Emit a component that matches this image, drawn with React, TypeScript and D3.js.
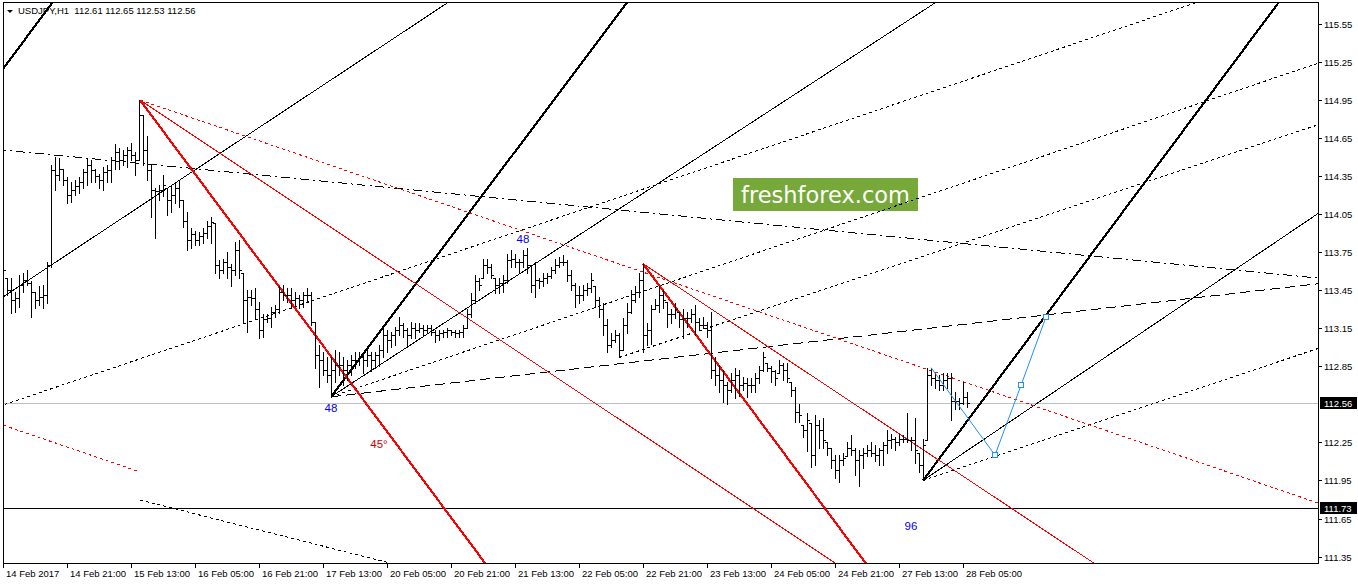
import React from 'react';
import * as d3 from 'd3';

const W = 1358;
const H = 584;

// ---- data -------------------------------------------------------------
const TIME_LABELS = ['14 Feb 2017', '14 Feb 21:00', '15 Feb 13:00', '16 Feb 05:00', '16 Feb 21:00', '17 Feb 13:00', '20 Feb 05:00', '20 Feb 21:00', '21 Feb 13:00', '22 Feb 05:00', '22 Feb 21:00', '23 Feb 13:00', '24 Feb 05:00', '24 Feb 21:00', '27 Feb 13:00', '28 Feb 05:00'];
const TIME_LABEL_BARS = [0, 16, 32, 48, 64, 80, 96, 112, 128, 144, 160, 176, 192, 208, 224, 240];
const PRICE_TICKS = [115.55, 115.25, 114.95, 114.65, 114.35, 114.05, 113.75, 113.45, 113.15, 112.85, 112.25, 111.95, 111.65, 111.35];

const OPEN_FIRST = 113.70;
const HIGH = [
  113.74, 113.55, 113.55, 113.44, 113.57, 113.59, 113.61, 113.52, 113.44, 113.48,
  113.49, 113.67, 114.44, 114.50, 114.49, 114.41, 114.34, 114.30, 114.32, 114.34,
  114.41, 114.49, 114.48, 114.41, 114.37, 114.42, 114.44, 114.50, 114.60, 114.57,
  114.56, 114.58, 114.61, 114.54, 114.95, 114.83, 114.67, 114.44, 114.26, 114.28,
  114.36, 114.26, 114.28, 114.30, 114.32, 114.16, 114.07, 113.94, 113.92, 113.91,
  113.94, 114.00, 114.03, 113.98, 113.69, 113.70, 113.75, 113.66, 113.83, 113.85,
  113.59, 113.45, 113.45, 113.47, 113.36, 113.26, 113.26, 113.32, 113.33, 113.48,
  113.49, 113.47, 113.47, 113.44, 113.41, 113.44, 113.47, 113.44, 113.20, 113.02,
  112.96, 112.92, 112.92, 112.98, 112.96, 112.92, 112.90, 112.94, 112.96, 112.96,
  112.94, 113.00, 112.96, 112.96, 113.02, 113.16, 113.14, 113.12, 113.16, 113.24,
  113.19, 113.15, 113.20, 113.19, 113.19, 113.18, 113.18, 113.18, 113.14, 113.14,
  113.14, 113.15, 113.14, 113.14, 113.14, 113.18, 113.30, 113.43, 113.57, 113.55,
  113.70, 113.70, 113.66, 113.55, 113.55, 113.57, 113.74, 113.77, 113.74, 113.70,
  113.77, 113.78, 113.65, 113.67, 113.55, 113.59, 113.59, 113.63, 113.70, 113.71,
  113.73, 113.69, 113.61, 113.51, 113.48, 113.49, 113.51, 113.59, 113.48, 113.40,
  113.35, 113.22, 113.11, 113.14, 113.11, 113.23, 113.35, 113.45, 113.48, 113.59,
  113.66, 113.19, 113.33, 113.38, 113.48, 113.45, 113.36, 113.30, 113.35, 113.28,
  113.30, 113.28, 113.30, 113.33, 113.23, 113.24, 113.20, 113.28, 112.92, 112.86,
  112.82, 112.73, 112.80, 112.84, 112.82, 112.77, 112.76, 112.76, 112.80, 112.85,
  112.96, 112.88, 112.85, 112.82, 112.90, 112.88, 112.88, 112.73, 112.69, 112.55,
  112.39, 112.48, 112.40, 112.47, 112.43, 112.44, 112.25, 112.21, 112.15, 112.15,
  112.17, 112.25, 112.31, 112.21, 112.19, 112.21, 112.23, 112.25, 112.23, 112.21,
  112.25, 112.35, 112.32, 112.29, 112.32, 112.31, 112.48, 112.29, 112.44, 112.17,
  112.28, 112.84, 112.84, 112.80, 112.78, 112.80, 112.80, 112.80, 112.65, 112.60,
  112.73, 112.65,
];
const LOW = [
  113.55, 113.41, 113.27, 113.28, 113.32, 113.44, 113.49, 113.24, 113.31, 113.33,
  113.31, 113.35, 113.63, 114.24, 114.32, 114.28, 114.14, 114.15, 114.20, 114.22,
  114.26, 114.28, 114.30, 114.30, 114.26, 114.24, 114.30, 114.30, 114.41, 114.41,
  114.44, 114.42, 114.48, 114.36, 114.48, 114.44, 114.32, 114.03, 113.86, 114.16,
  114.19, 114.04, 114.07, 114.14, 114.11, 113.95, 113.77, 113.78, 113.81, 113.81,
  113.82, 113.86, 113.82, 113.59, 113.55, 113.59, 113.55, 113.48, 113.57, 113.55,
  113.20, 113.12, 113.33, 113.22, 113.07, 113.08, 113.20, 113.16, 113.24, 113.27,
  113.37, 113.36, 113.31, 113.33, 113.31, 113.32, 113.36, 113.18, 112.84, 112.69,
  112.78, 112.73, 112.61, 112.73, 112.78, 112.70, 112.74, 112.78, 112.84, 112.86,
  112.80, 112.85, 112.81, 112.84, 112.85, 112.92, 112.96, 113.00, 113.02, 113.10,
  113.08, 113.00, 113.07, 113.07, 113.12, 113.10, 113.11, 113.10, 113.04, 113.06,
  113.08, 113.08, 113.10, 113.08, 113.08, 113.08, 113.15, 113.24, 113.35, 113.45,
  113.55, 113.59, 113.55, 113.43, 113.43, 113.44, 113.51, 113.63, 113.63, 113.59,
  113.63, 113.59, 113.44, 113.40, 113.47, 113.48, 113.51, 113.55, 113.59, 113.63,
  113.65, 113.52, 113.45, 113.32, 113.35, 113.37, 113.41, 113.44, 113.32, 113.24,
  113.10, 112.96, 113.00, 113.04, 112.92, 112.98, 113.11, 113.27, 113.36, 113.40,
  112.96, 113.02, 113.03, 113.30, 113.28, 113.31, 113.16, 113.19, 113.23, 113.16,
  113.07, 113.16, 113.20, 113.10, 113.14, 113.15, 113.08, 112.76, 112.70, 112.65,
  112.57, 112.55, 112.65, 112.60, 112.62, 112.66, 112.61, 112.65, 112.65, 112.72,
  112.81, 112.81, 112.73, 112.70, 112.80, 112.74, 112.73, 112.62, 112.41, 112.41,
  112.29, 112.18, 112.06, 112.07, 112.21, 112.21, 112.15, 112.05, 111.97, 111.94,
  112.07, 112.14, 112.15, 111.99, 111.91, 112.05, 112.14, 112.14, 112.10, 112.07,
  112.07, 112.17, 112.21, 112.19, 112.23, 112.25, 112.25, 112.19, 112.09, 112.02,
  111.95, 112.27, 112.70, 112.68, 112.66, 112.66, 112.68, 112.43, 112.51, 112.51,
  112.55, 112.53,
];
const CLOSE = [
  113.61, 113.45, 113.37, 113.39, 113.49, 113.53, 113.51, 113.44, 113.37, 113.40,
  113.41, 113.65, 114.40, 114.36, 114.41, 114.32, 114.20, 114.24, 114.27, 114.30,
  114.38, 114.44, 114.40, 114.35, 114.32, 114.38, 114.40, 114.48, 114.54, 114.48,
  114.52, 114.56, 114.52, 114.48, 114.83, 114.56, 114.40, 114.24, 114.23, 114.24,
  114.28, 114.16, 114.20, 114.26, 114.16, 114.00, 113.85, 113.89, 113.85, 113.88,
  113.90, 113.96, 113.99, 113.65, 113.61, 113.67, 113.63, 113.61, 113.77, 113.61,
  113.37, 113.40, 113.39, 113.30, 113.14, 113.22, 113.23, 113.28, 113.30, 113.44,
  113.41, 113.41, 113.37, 113.39, 113.37, 113.41, 113.41, 113.20, 112.94, 112.90,
  112.82, 112.78, 112.82, 112.86, 112.86, 112.82, 112.86, 112.90, 112.90, 112.92,
  112.90, 112.94, 112.90, 112.94, 112.98, 113.10, 113.06, 113.10, 113.14, 113.18,
  113.14, 113.10, 113.15, 113.14, 113.15, 113.14, 113.15, 113.12, 113.10, 113.11,
  113.12, 113.14, 113.12, 113.11, 113.12, 113.15, 113.26, 113.37, 113.52, 113.49,
  113.65, 113.63, 113.57, 113.49, 113.51, 113.53, 113.69, 113.70, 113.67, 113.67,
  113.73, 113.65, 113.49, 113.53, 113.52, 113.55, 113.56, 113.61, 113.65, 113.67,
  113.67, 113.57, 113.49, 113.41, 113.41, 113.45, 113.47, 113.53, 113.37, 113.30,
  113.18, 113.02, 113.06, 113.10, 112.98, 113.18, 113.28, 113.37, 113.44, 113.53,
  113.10, 113.14, 113.30, 113.33, 113.41, 113.37, 113.26, 113.26, 113.30, 113.22,
  113.23, 113.23, 113.26, 113.20, 113.18, 113.18, 113.14, 112.82, 112.78, 112.74,
  112.70, 112.66, 112.74, 112.78, 112.70, 112.72, 112.70, 112.70, 112.76, 112.82,
  112.92, 112.84, 112.81, 112.76, 112.86, 112.82, 112.76, 112.66, 112.49, 112.47,
  112.35, 112.43, 112.15, 112.39, 112.35, 112.27, 112.21, 112.11, 112.03, 112.11,
  112.13, 112.21, 112.19, 112.11, 112.15, 112.17, 112.19, 112.17, 112.15, 112.19,
  112.23, 112.27, 112.28, 112.25, 112.28, 112.28, 112.27, 112.27, 112.19, 112.07,
  112.23, 112.78, 112.76, 112.74, 112.70, 112.74, 112.76, 112.58, 112.58, 112.56,
  112.61, 112.56,
];

// Gann-fan / trend lines: anchor bar, anchor price, slope (price per bar), start/end bar
const LINE_BARS = [0, 0, 0, 0, 82, 82, 82, 82, 154, 230, 230, 230, 34.25, 34.25, 34.25, 160, 160, 0, 34.25];
const LINE_PRICES = [115.195, 113.397, 112.545, 114.556, 112.61, 112.61, 112.61, 112.61, 112.92, 111.95, 111.95, 111.95, 114.95, 114.95, 114.95, 113.66, 113.66, 112.387, 111.796];
const LINE_SLOPES = [0.04249, 0.02088, 0.01064, -0.003071, 0.04202, 0.02057, 0.01066, 0.003612, 0.0105, 0.0424, 0.02132, 0.01054, -0.04233, -0.02101, -0.01079, -0.04243, -0.02095, -0.01079, -0.00795];
const LINE_START = [-200, -200, -200, -200, 82, 82, 82, 82, 154, 230, 230, 230, 34.25, 34.25, 34.25, 160, 160, -200, 34.25];
const LINE_END = [400, 400, 400, 400, 400, 400, 400, 400, 400, 400, 400, 400, 400, 400, 400, 400, 400, 34.25, 400];
const LINE_KINDS = ['thick', 'thin', 'dot', 'dashdot', 'thick', 'thin', 'dot', 'dash', 'dot', 'thick', 'thin', 'dot', 'thick', 'thin', 'dot', 'thick', 'thin', 'dot', 'dot'];
const LINE_COLORS = ['k', 'k', 'k', 'k', 'k', 'k', 'k', 'k', 'k', 'k', 'k', 'k', 'r', 'r', 'r', 'r', 'r', 'r', 'k'];

const PATH_BARS = [232, 248, 254.5, 260.75];
const PATH_PRICES = [112.84, 112.15, 112.70, 113.24];

const LABEL_TEXTS = ['48', '48', '45°', '96'];
const LABEL_BARS = [130, 82, 94, 227];
const LABEL_PRICES = [113.82, 112.49, 112.21, 111.56];
const LABEL_COLORS = ['#0000ff', '#0000ff', '#cc0000', '#0000ff'];

const CURRENT_PRICE = 112.56;
const LEVEL_PRICE = 111.73;

// ---- layout ------------------------------------------------------------
const L = 3, T = 3, R = 1318, B = 563;
const x = d3.scaleLinear().domain([0, 328.75]).range([3, 1318]);
const y = d3.scaleLinear().domain([115.55, 111.35]).range([24, 556.56]);

const FONT = "'Liberation Sans', Arial, sans-serif";

const dashFor = (k: string) =>
  k === 'dot' ? '3,3' : k === 'dash' ? '10,5' : k === 'dashdot' ? '9,4,2,4' : undefined;

export default function App() {
  const bars = HIGH.map((h, i) => {
    const prev = i === 0 ? OPEN_FIRST : CLOSE[i - 1];
    const o = Math.max(LOW[i], Math.min(HIGH[i], prev));
    return { i, h, l: LOW[i], o, c: CLOSE[i] };
  });

  const lines = LINE_BARS.map((b, k) => {
    const p = LINE_PRICES[k];
    const s = LINE_SLOPES[k];
    const b0 = LINE_START[k];
    const b1 = LINE_END[k];
    return {
      x1: x(b0), y1: y(p + s * (b0 - b)),
      x2: x(b1), y2: y(p + s * (b1 - b)),
      kind: LINE_KINDS[k],
      color: LINE_COLORS[k] === 'r' ? '#ff0000' : '#000000',
    };
  });

  const pathLine = d3.line<number>()
    .x((_, i) => x(PATH_BARS[i]))
    .y((d) => y(d));

  return (
    <svg width={W} height={H} style={{ position: 'fixed', left: 0, top: 0, background: '#fff' }}
      xmlns="http://www.w3.org/2000/svg">
      <defs>
        <clipPath id="plot">
          <rect x={L} y={T} width={R - L} height={B - T} />
        </clipPath>
      </defs>
      <rect x={0} y={0} width={W} height={H} fill="#fff" />

      <g clipPath="url(#plot)">
        <line x1={L} x2={R} y1={Math.round(y(CURRENT_PRICE)) + 0.5} y2={Math.round(y(CURRENT_PRICE)) + 0.5} stroke="#c0c0c0" strokeWidth={1} />
        <line x1={L} x2={R} y1={Math.round(y(LEVEL_PRICE)) + 0.5} y2={Math.round(y(LEVEL_PRICE)) + 0.5} stroke="#000" strokeWidth={1} />

        <rect x={733} y={178} width={185} height={33} fill="#77a83a" />
        <text x={825.5} y={203} textAnchor="middle" fill="#fff" fontFamily="'DejaVu Sans', Verdana, sans-serif" fontSize={22.5}>freshforex.com</text>

        {lines.map((ln, k) => (
          <line key={k} x1={ln.x1} y1={ln.y1} x2={ln.x2} y2={ln.y2}
            stroke={ln.color}
            strokeWidth={ln.kind === 'thick' ? 2.2 : 1}
            strokeDasharray={dashFor(ln.kind)}
            shapeRendering="crispEdges" />
        ))}

        <g shapeRendering="crispEdges" fill="#000">
          {bars.map((d) => {
            const px = Math.round(x(d.i));
            const yh = Math.round(y(d.h));
            const yl = Math.round(y(d.l));
            return (
              <g key={d.i}>
                <rect x={px} y={yh} width={1} height={Math.max(1, yl - yh + 1)} />
                <rect x={px - 2} y={Math.round(y(d.o))} width={2} height={1} />
                <rect x={px + 1} y={Math.round(y(d.c))} width={2} height={1} />
              </g>
            );
          })}
        </g>

        <path d={pathLine(PATH_PRICES) || ''} fill="none" stroke="#1e90ff" strokeWidth={1} />
        {PATH_PRICES.slice(1).map((p, i) => (
          <rect key={i} x={Math.round(x(PATH_BARS[i + 1])) - 2.5} y={Math.round(y(p)) - 2.5} width={5} height={5}
            fill="#fff" stroke="#1e90ff" strokeWidth={1} />
        ))}

        {LABEL_TEXTS.map((t, i) => (
          <text key={i} x={x(LABEL_BARS[i])} y={y(LABEL_PRICES[i])} textAnchor="middle" fill={LABEL_COLORS[i]}
            fontFamily={FONT} fontSize={11.5}>{t}</text>
        ))}
      </g>

      <line x1={L + 0.5} x2={L + 0.5} y1={2} y2={B + 1} stroke="#000" />
      <line x1={L} x2={R + 1} y1={2.5} y2={2.5} stroke="#000" />
      <line x1={R + 0.5} x2={R + 0.5} y1={2} y2={B + 1} stroke="#000" />
      <line x1={L} x2={R + 1} y1={B + 0.5} y2={B + 0.5} stroke="#000" />

      <path d="M7,10 L13,10 L10,13 Z" fill="#000" />
      <text x={18} y={14} fontFamily={FONT} fontSize={9.5} fill="#000" style={{ whiteSpace: 'pre' }}>USDJPY,H1  112.61 112.65 112.53 112.56</text>

      {PRICE_TICKS.map((p) => {
        const py = Math.round(y(p));
        return (
          <g key={p}>
            <line x1={R} x2={R + 4} y1={py + 0.5} y2={py + 0.5} stroke="#000" />
            <text x={R + 6} y={py + 3.5} fontFamily={FONT} fontSize={9.5} fill="#000">{p.toFixed(2)}</text>
          </g>
        );
      })}
      {[CURRENT_PRICE, LEVEL_PRICE].map((p) => {
        const py = Math.round(y(p));
        return (
          <g key={'box' + p}>
            <rect x={R + 2} y={py - 6} width={37} height={12} fill="#000" />
            <text x={R + 6} y={py + 3.5} fontFamily={FONT} fontSize={9.5} fill="#fff">{p.toFixed(2)}</text>
          </g>
        );
      })}

      {TIME_LABELS.map((t, i) => {
        const px = Math.round(x(TIME_LABEL_BARS[i]));
        return (
          <g key={t}>
            <line x1={px + 0.5} x2={px + 0.5} y1={B} y2={B + 5} stroke="#000" />
            <text x={px + 3} y={577} fontFamily={FONT} fontSize={9.5} fill="#000">{t}</text>
          </g>
        );
      })}
    </svg>
  );
}
